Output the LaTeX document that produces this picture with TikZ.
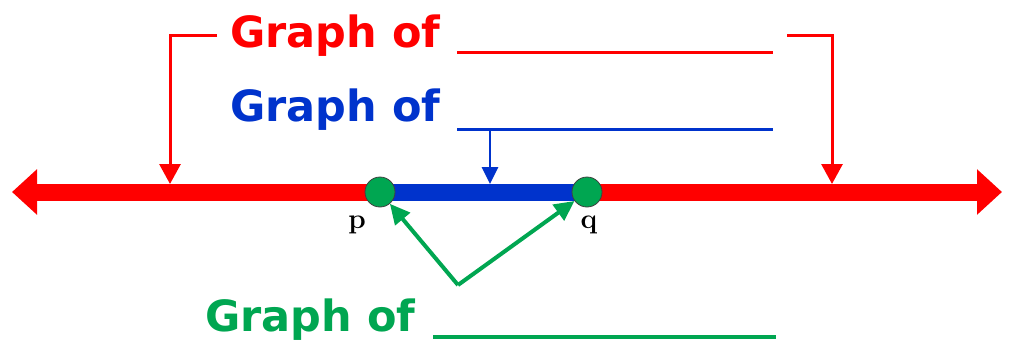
\documentclass[tikz,border=0pt]{standalone}
\usepackage{fontspec}
\newfontfamily\vf{DejaVu Sans}
\usetikzlibrary{arrows.meta}
\definecolor{myred}{RGB}{255,0,0}
\definecolor{myblue}{RGB}{0,51,204}
\definecolor{mygreen}{RGB}{0,166,81}
\begin{document}
\begin{tikzpicture}[x=1pt,y=-1pt,
  lab/.style={anchor=base west, inner sep=0, font=\vf\bfseries\fontsize{43}{43}\selectfont},
  blank/.style={line width=3pt},
  ptnode/.style={circle, fill=mygreen, draw=black!75, line width=0.8pt, minimum size=30pt, inner sep=0},
  ptlab/.style={anchor=base, inner sep=0, font=\bfseries\fontsize{28}{28}\selectfont},
  bigline/.style={line width=17pt},
  redarr/.style={myred, line width=3pt, -{Triangle[length=20pt,width=21pt]}},
  bluearr/.style={myblue, line width=2.8pt, -{Triangle[length=17pt,width=16pt]}},
  greenarr/.style={mygreen, line width=4pt, -{Triangle[length=20pt,width=19pt]}}]
\useasboundingbox (0,0) rectangle (1010,340);
% number line
\coordinate (pc) at (380,192);
\coordinate (qc) at (587,192);
\coordinate (L) at (12,192);
\coordinate (R) at (1002,192);
\draw[myred, bigline, -{Triangle[length=25pt,width=44pt]}] (pc) -- (L);
\draw[myred, bigline, -{Triangle[length=25pt,width=44pt]}] (qc) -- (R);
\draw[myblue, bigline] (pc) -- (qc);
\node[ptnode] (p) at (pc) {};
\node[ptnode] (q) at (qc) {};
\node[ptlab] (plab) at (357,228) {p};
\node[ptlab] (qlab) at (589,228) {q};
% red label
\node[lab, text=myred] (rt) at (230,47) {Graph of};
\coordinate (rb1) at (457,52);
\coordinate (rb2) at (773,52);
\draw[myred, blank] (rb1) -- (rb2);
\coordinate (ra1) at (217,35);
\coordinate (ra2) at (170,35);
\coordinate (ra3) at (170,184);
\draw[redarr] (ra1) -- (ra2) -- (ra3);
\coordinate (rc1) at (787,35);
\coordinate (rc2) at (832,35);
\coordinate (rc3) at (832,184);
\draw[redarr] (rc1) -- (rc2) -- (rc3);
% blue label
\node[lab, text=myblue] (bt) at (230,121) {Graph of};
\coordinate (bb1) at (457,129);
\coordinate (bb2) at (773,129);
\draw[myblue, blank] (bb1) -- (bb2);
\coordinate (ba1) at (490,129);
\coordinate (ba2) at (490,184);
\draw[bluearr] (ba1) -- (ba2);
% green label
\node[lab, text=mygreen] (gt) at (205,331) {Graph of};
\coordinate (gb1) at (433,337);
\coordinate (gb2) at (776,337);
\draw[mygreen, line width=4pt] (gb1) -- (gb2);
\coordinate (gv) at (458,285);
\draw[greenarr] (gv) -- (p);
\draw[greenarr] (gv) -- (q);
\end{tikzpicture}
\end{document}
